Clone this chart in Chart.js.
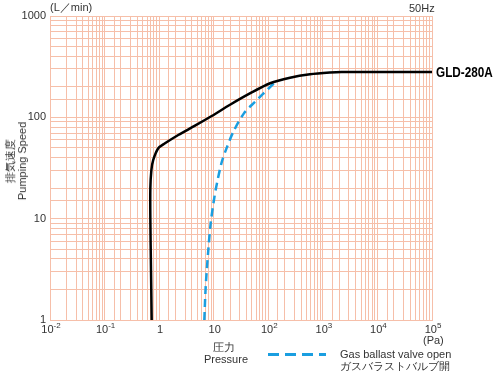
<!DOCTYPE html>
<html>
<head>
<meta charset="utf-8">
<script src="https://cdn.jsdelivr.net/npm/chart.js@4"></script>
<style>
  body { margin: 0; background: #fff; }
  #wrap { position: relative; width: 495px; height: 371px; font-family: "Liberation Sans", Arial, sans-serif; color: #333; }
  canvas { position: absolute; left: 0; top: 0; }
  .t { position: absolute; font-size: 11px; line-height: 12px; white-space: nowrap; }
  .ytitle { position: absolute; left: 16px; top: 161px; transform: translate(-50%, -50%) rotate(-90deg); text-align: center; font-size: 11px; line-height: 12px; white-space: nowrap; }
  .model { position: absolute; left: 436px; top: 64px; font-family: "Liberation Sans", Arial, sans-serif; font-weight: bold;
           font-size: 14px; line-height: 16px; color: #000; white-space: nowrap; transform: scaleX(0.84); transform-origin: left center; }
  .dash { position: absolute; left: 268px; top: 353px; width: 58px; height: 3px;
          background: repeating-linear-gradient(90deg, #1a9ee0 0 11px, transparent 11px 17px); }
</style>
</head>
<body>
<div id="wrap">
  <canvas id="chart" width="495" height="371"></canvas>
  <div class="t" style="left:50px; top:1px;">(L／min)</div>
  <div class="t" style="left:409px; top:2px;">50Hz</div>
  <div class="model">GLD-280A</div>
  <div class="ytitle">排気速度<br>Pumping Speed</div>
  <div class="t" style="left:423px; top:334px;">(Pa)</div>
  <div class="t" style="left:204px; top:341px; width:40px; text-align:center;">圧力<br>Pressure</div>
  <div class="dash"></div>
  <div class="t" style="left:340px; top:348px;">Gas ballast valve open<br>ガスバラストバルブ開</div>
</div>
<script>
// 横軸: 圧力 (Pa), 縦軸: 排気速度 (L/min)
const xTickExps = [-2, -1, 0, 1, 2, 3, 4, 5];
const yTicks = [1, 10, 100, 1000];

// GLD-280A 実線
const mainPressure = [0.73, 0.71, 0.69, 0.69, 0.72, 0.78, 0.965, 1.28, 2.24, 4.54, 9.18, 19.9, 46, 108, 250, 580, 1350, 2200, 100000];
const mainSpeed    = [1, 3, 10, 20, 30, 38, 49.5, 55.4, 67, 82.7, 103, 133, 172, 217, 246, 266, 277, 280, 280];

// ガスバラストバルブ開 破線
const gbPressure = [6.73, 7.13, 7.96, 8.8, 10.1, 11.4, 14, 17.3, 22.9, 36, 57, 80, 128];
const gbSpeed    = [1, 2.13, 4.9, 9.0, 15.3, 22, 36, 50, 72, 110, 142, 170, 218];

const gridColor = '#f6bfa9';
const isPow10 = v => Math.abs(Math.log10(v) - Math.round(Math.log10(v))) < 1e-6;

// x軸ラベル (10のべき乗を上付きで描く)
const expLabels = {
    id: 'expLabels',
    afterDraw(chart) {
        const ctx = chart.ctx;
        const sx = chart.scales.x;
        const y = chart.chartArea.bottom + 10;
        ctx.save();
        ctx.fillStyle = '#333';
        ctx.textBaseline = 'middle';
        ctx.textAlign = 'left';
        xTickExps.forEach(e => {
            const px = sx.getPixelForValue(Math.pow(10, e));
            const base = e === 0 ? '1' : '10';
            const sup = (e === 0 || e === 1) ? '' : String(e);
            ctx.font = '11px "Liberation Sans", Arial, sans-serif';
            const wb = ctx.measureText(base).width;
            ctx.font = '8px "Liberation Sans", Arial, sans-serif';
            const ws = sup ? ctx.measureText(sup).width : 0;
            const left = px - (wb + ws) / 2 + 1;
            ctx.font = '11px "Liberation Sans", Arial, sans-serif';
            ctx.fillText(base, left, y);
            if (sup) {
                ctx.font = '8px "Liberation Sans", Arial, sans-serif';
                ctx.fillText(sup, left + wb, y - 4);
            }
        });
        ctx.restore();
    }
};

const ctx = document.getElementById('chart').getContext('2d');
new Chart(ctx, {
    type: 'line',
    data: {
        datasets: [
            {
                label: 'GLD-280A',
                data: mainPressure.map((p, i) => ({ x: p, y: mainSpeed[i] })),
                borderColor: '#000',
                borderWidth: 2.5,
                pointRadius: 0,
                tension: 0.3,
                fill: false
            },
            {
                label: 'Gas ballast valve open',
                data: gbPressure.map((p, i) => ({ x: p, y: gbSpeed[i] })),
                borderColor: '#1a9ee0',
                borderWidth: 2.5,
                borderDash: [8, 5],
                pointRadius: 0,
                tension: 0.3,
                fill: false
            }
        ]
    },
    options: {
        responsive: false,
        animation: false,
        devicePixelRatio: 1,
        layout: { padding: { left: 0, right: 63, top: 16, bottom: 0 } },
        plugins: { legend: { display: false }, tooltip: { enabled: false } },
        scales: {
            x: {
                type: 'logarithmic',
                min: 0.01,
                max: 100000,
                grid: { color: gridColor, lineWidth: 1, drawTicks: false },
                border: { color: gridColor },
                ticks: { display: false, autoSkip: false },
                afterFit: s => { s.height = 51; }
            },
            y: {
                type: 'logarithmic',
                min: 1,
                max: 1000,
                grid: { color: gridColor, lineWidth: 1, drawTicks: false },
                border: { color: gridColor },
                ticks: {
                    autoSkip: false,
                    padding: 4,
                    color: '#333',
                    font: { family: '"Liberation Sans", Arial, sans-serif', size: 11 },
                    callback: v => (isPow10(v) && yTicks.includes(Math.round(v))) ? String(Math.round(v)) : ''
                },
                afterFit: s => { s.width = 50; }
            }
        }
    },
    plugins: [expLabels]
});
</script>
</body>
</html>
